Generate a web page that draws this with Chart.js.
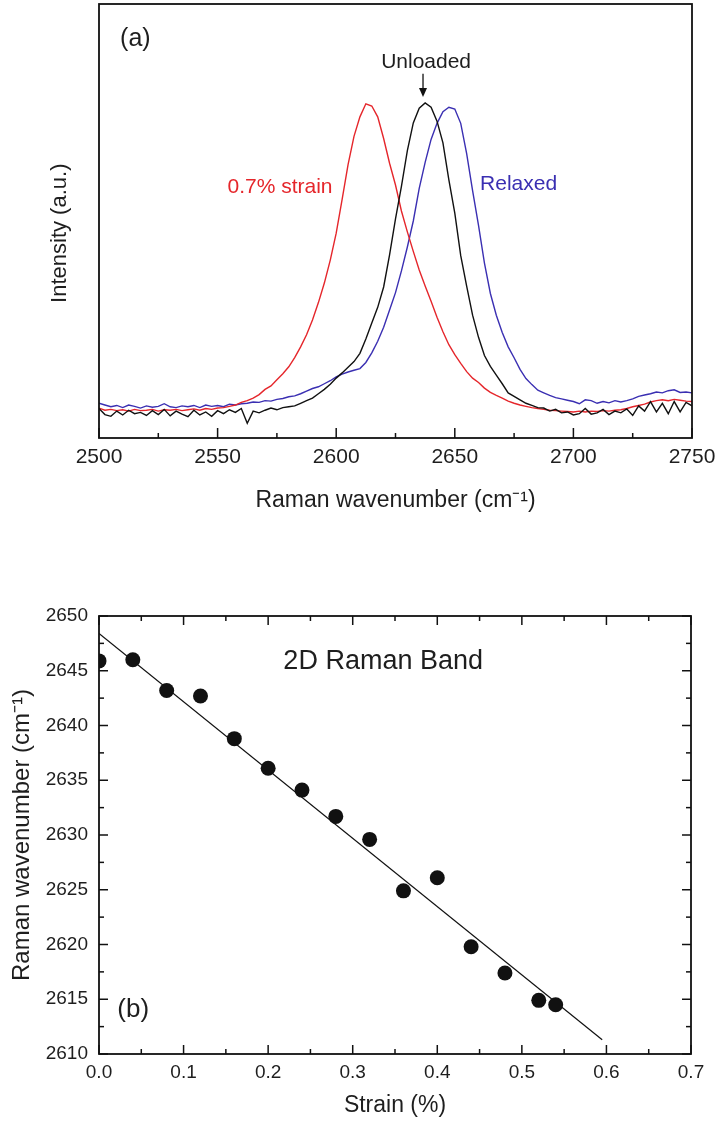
<!DOCTYPE html>
<html>
<head>
<meta charset="utf-8">
<script src="https://cdn.jsdelivr.net/npm/chart.js@4/dist/chart.umd.min.js"></script>
<style>
html,body{margin:0;padding:0;background:#fff;width:718px;height:1122px;overflow:hidden}
#wrapA{position:absolute;left:0;top:0;width:718px;height:560px}
#wrapB{position:absolute;left:0;top:560px;width:718px;height:562px}
canvas{display:block}
</style>
</head>
<body>
<div id="wrapA"><canvas id="chartA" width="718" height="560"></canvas></div>
<div id="wrapB"><canvas id="chartB" width="718" height="562"></canvas></div>
<script>
// ---------- Panel (a): Raman spectra ----------
const wavenumber = [
  2500, 2502.5, 2505, 2507.5, 2510, 2512.5, 2515, 2517.5, 2520, 2522.5,
  2525, 2527.5, 2530, 2532.5, 2535, 2537.5, 2540, 2542.5, 2545, 2547.5,
  2550, 2552.5, 2555, 2557.5, 2560, 2562.5, 2565, 2567.5, 2570, 2572.5,
  2575, 2577.5, 2580, 2582.5, 2585, 2587.5, 2590, 2592.5, 2595, 2597.5,
  2600, 2602.5, 2605, 2607.5, 2610, 2612.5, 2615, 2617.5, 2620, 2622.5,
  2625, 2627.5, 2630, 2632.5, 2635, 2637.5, 2640, 2642.5, 2645, 2647.5,
  2650, 2652.5, 2655, 2657.5, 2660, 2662.5, 2665, 2667.5, 2670, 2672.5,
  2675, 2677.5, 2680, 2682.5, 2685, 2687.5, 2690, 2692.5, 2695, 2697.5,
  2700, 2702.5, 2705, 2707.5, 2710, 2712.5, 2715, 2717.5, 2720, 2722.5,
  2725, 2727.5, 2730, 2732.5, 2735, 2737.5, 2740, 2742.5, 2745, 2747.5,
  2750
];
const intensityStrained = [
  6.9, 6.4, 6.6, 6.3, 6.5, 6.2, 6.6, 6.3, 6.4, 6.6,
  6.2, 6.5, 6.4, 6.6, 6.3, 6.5, 6.7, 6.4, 6.8, 6.6,
  6.9, 7.0, 7.3, 7.6, 8.2, 8.6, 9.2, 10.0, 11.2, 12.0,
  13.4, 14.8, 16.4, 18.5, 21.0, 23.8, 27.2, 31.2, 35.7, 41.0,
  47.2, 55.0, 63.0, 69.5, 74.0, 77.0, 76.5, 74.0, 69.0, 63.3,
  58.3, 52.3, 47.5, 43.0, 38.7, 35.0, 31.5, 27.8, 24.5, 21.5,
  19.2, 17.2, 15.3, 13.8, 12.8, 11.5, 10.5, 9.8, 9.2, 8.5,
  8.0, 7.6, 7.3, 7.0, 6.8, 6.6, 6.4, 6.3, 6.2, 6.1,
  6.0, 6.2, 6.0, 6.2, 6.1, 6.3, 6.2, 6.4, 6.5, 6.8,
  7.2, 7.5, 7.8, 8.3, 8.6, 8.8, 8.6, 8.9, 8.7, 8.5,
  8.4
];
const intensityUnloaded = [
  6.8, 5.4, 5.0, 6.2, 5.3, 6.4, 5.6, 5.9, 5.2, 6.3,
  5.4, 6.6, 5.1, 6.2, 5.5, 4.9, 6.4, 5.3, 6.0, 5.0,
  6.3, 5.6, 6.5, 5.9, 6.8, 3.4, 6.2, 5.8, 6.4, 6.9,
  6.5, 7.0, 7.2, 7.4, 8.0, 8.6, 9.2, 10.2, 11.2, 12.4,
  13.8, 15.0, 16.3, 17.6, 19.5, 22.8, 26.5, 30.1, 34.8, 42.2,
  50.5, 58.0, 66.2, 72.6, 76.0, 77.2, 76.2, 73.0, 68.0, 59.5,
  51.8, 42.0, 35.0, 28.3, 23.2, 19.0, 16.5, 14.5, 12.5, 10.4,
  9.6, 8.8, 8.0, 7.5, 7.0, 6.9, 6.2, 6.6, 5.8, 6.0,
  5.3, 5.6, 6.8, 5.5, 5.8, 6.6, 5.4, 6.2, 5.8, 6.7,
  5.2, 7.4, 6.2, 8.4, 6.0, 8.0, 5.6, 8.4, 6.0, 8.2,
  7.4
];
const intensityRelaxed = [
  8.0, 7.6, 7.2, 7.5, 7.0, 7.6, 7.3, 6.9, 7.4, 7.1,
  7.3, 7.9, 7.2, 7.0, 7.4, 7.2, 7.5, 7.0, 7.6, 7.3,
  7.5, 7.2, 7.8, 7.6, 7.9, 8.0, 8.3, 8.2, 8.6, 8.5,
  8.9, 9.1, 9.5, 9.7, 10.2, 10.8, 11.4, 11.8, 12.5, 13.2,
  14.1, 14.7, 15.2, 15.6, 16.0, 17.4, 19.6, 22.3, 25.5, 29.5,
  33.5, 38.5, 44.0, 50.0, 57.5, 63.5, 68.8, 72.5, 75.2, 76.2,
  75.8, 72.5, 65.5, 57.0, 49.0, 40.3, 33.3, 28.3, 24.3, 21.0,
  18.5, 15.8, 13.7, 12.3, 11.0, 10.4, 9.8, 9.3, 9.0, 8.7,
  8.4, 7.9, 8.8, 8.6, 8.0, 8.4, 8.1, 8.6, 8.3, 8.6,
  9.0, 9.6, 9.9, 10.2, 10.6, 10.4, 10.9, 11.1, 10.5, 10.6,
  10.4
];

// ---------- Panel (b): 2D band position vs strain ----------
const strain = [0, 0.04, 0.08, 0.12, 0.16, 0.20, 0.24, 0.28, 0.32, 0.36, 0.40, 0.44, 0.48, 0.52, 0.54];
const bandPosition = [2645.9, 2646.0, 2643.2, 2642.7, 2638.8, 2636.1, 2634.1, 2631.7, 2629.6, 2624.9, 2626.1, 2619.8, 2617.4, 2614.9, 2614.5];
const fitStrain = [0, 0.595];
const fitPosition = [2648.4, 2611.3];

const FONT = '"Liberation Sans", Arial, Helvetica, sans-serif';
const RED = '#e5262b';
const BLUE = '#3a2fb2';
const BLACK = '#111111';
const TEXT = '#1e1e1e';

Chart.defaults.font.family = FONT;
Chart.defaults.color = TEXT;

function toXY(xs, ys) { return xs.map((x, i) => ({x: x, y: ys[i]})); }

const framePlugin = {
  id: 'frame',
  afterDatasetsDraw(chart, args, opts) {
    const {ctx, chartArea: a} = chart;
    const xs = chart.scales.x, ys = chart.scales.y;
    const majors = s => s.ticks.map(t => t.value);
    const minors = s => {
      const v = majors(s), out = [];
      for (let i = 0; i < v.length - 1; i++) out.push((v[i] + v[i + 1]) / 2);
      return out;
    };
    ctx.save();
    ctx.strokeStyle = opts.color;
    ctx.lineWidth = opts.tickWidth;
    const drawTicks = (side, vals, len) => {
      vals.forEach(v => {
        ctx.beginPath();
        if (side === 'bottom' || side === 'top') {
          const p = xs.getPixelForValue(v);
          const y0 = side === 'bottom' ? a.bottom : a.top;
          const dir = side === 'bottom' ? -1 : 1;
          ctx.moveTo(p, y0); ctx.lineTo(p, y0 + dir * len);
        } else {
          const p = ys.getPixelForValue(v);
          const x0 = side === 'left' ? a.left : a.right;
          const dir = side === 'left' ? 1 : -1;
          ctx.moveTo(x0, p); ctx.lineTo(x0 + dir * len, p);
        }
        ctx.stroke();
      });
    };
    (opts.sides || []).forEach(side => {
      const s = (side === 'bottom' || side === 'top') ? xs : ys;
      drawTicks(side, majors(s), opts.major);
      drawTicks(side, minors(s), opts.minor);
    });
    ctx.lineWidth = opts.borderWidth;
    ctx.strokeRect(a.left, a.top, a.right - a.left, a.bottom - a.top);
    ctx.restore();
  }
};

const notesPlugin = {
  id: 'notes',
  afterDatasetsDraw(chart, args, opts) {
    const {ctx} = chart;
    const xs = chart.scales.x, ys = chart.scales.y;
    ctx.save();
    (opts.texts || []).forEach(t => {
      ctx.font = t.size + 'px ' + FONT;
      ctx.fillStyle = t.color;
      ctx.textAlign = t.align || 'left';
      ctx.textBaseline = 'middle';
      ctx.fillText(t.text, xs.getPixelForValue(t.x), ys.getPixelForValue(t.y));
    });
    (opts.arrows || []).forEach(ar => {
      const x = xs.getPixelForValue(ar.x);
      const y0 = ys.getPixelForValue(ar.y0);
      const y1 = ys.getPixelForValue(ar.y1);
      ctx.strokeStyle = ar.color; ctx.fillStyle = ar.color; ctx.lineWidth = 1.3;
      ctx.beginPath(); ctx.moveTo(x, y0); ctx.lineTo(x, y1 - 6); ctx.stroke();
      ctx.beginPath(); ctx.moveTo(x - 4, y1 - 9); ctx.lineTo(x + 4, y1 - 9); ctx.lineTo(x, y1); ctx.closePath(); ctx.fill();
    });
    ctx.restore();
  }
};

const plainNumber = v => String(Math.round(Number(v)));

// ---------- Chart (a) ----------
new Chart(document.getElementById('chartA'), {
  type: 'scatter',
  data: {
    datasets: [
      {label: 'Unloaded', data: toXY(wavenumber, intensityUnloaded), borderColor: BLACK, showLine: true},
      {label: '0.7% strain', data: toXY(wavenumber, intensityStrained), borderColor: RED, showLine: true},
      {label: 'Relaxed', data: toXY(wavenumber, intensityRelaxed), borderColor: BLUE, showLine: true}
    ]
  },
  options: {
    responsive: false,
    animation: false,
    events: [],
    layout: {padding: {left: 0, top: 4, right: 26, bottom: 32}},
    elements: {point: {radius: 0}, line: {borderWidth: 1.4, tension: 0}},
    plugins: {
      legend: {display: false},
      tooltip: {enabled: false},
      frame: {color: BLACK, tickWidth: 1.5, borderWidth: 1.8, major: 10, minor: 5, sides: ['bottom']},
      notes: {
        texts: [
          {text: '(a)', x: 2508.9, y: 91.9, size: 25, color: TEXT, align: 'left'},
          {text: '0.7% strain', x: 2576.3, y: 57.8, size: 21, color: RED, align: 'center'},
          {text: 'Unloaded', x: 2637.9, y: 86.6, size: 21, color: TEXT, align: 'center'},
          {text: 'Relaxed', x: 2676.9, y: 58.5, size: 21, color: BLUE, align: 'center'}
        ],
        arrows: [{x: 2636.6, y0: 83.9, y1: 78.6, color: BLACK}]
      }
    },
    scales: {
      x: {
        type: 'linear', min: 2500, max: 2750,
        grid: {display: false, drawTicks: false},
        border: {display: false},
        ticks: {stepSize: 50, padding: 7, font: {size: 21}, color: TEXT, maxRotation: 0, autoSkip: false,
                callback: plainNumber},
        title: {display: true, text: 'Raman wavenumber (cm\u207B\u00B9)', font: {size: 23}, color: TEXT, padding: {top: 0, bottom: 14}},
        afterFit: s => { s.height = 90; s.paddingLeft = 0; s.paddingRight = 0; }
      },
      y: {
        type: 'linear', min: 0, max: 100,
        grid: {display: false, drawTicks: false},
        border: {display: false},
        ticks: {display: false},
        title: {display: true, text: 'Intensity (a.u.)\u00A0\u00A0\u00A0\u00A0', font: {size: 22}, color: TEXT, padding: {top: 47, bottom: 0}},
        afterFit: s => { s.width = 99; s.paddingTop = 0; s.paddingBottom = 0; }
      }
    }
  },
  plugins: [framePlugin, notesPlugin]
});

// ---------- Chart (b) ----------
new Chart(document.getElementById('chartB'), {
  type: 'scatter',
  data: {
    datasets: [
      {label: '2D band', data: toXY(strain, bandPosition), backgroundColor: BLACK, borderWidth: 0, pointRadius: 7.5, showLine: false, clip: 0},
      {label: 'Linear fit', data: toXY(fitStrain, fitPosition), borderColor: BLACK, borderWidth: 1.2, pointRadius: 0, showLine: true}
    ]
  },
  options: {
    responsive: false,
    animation: false,
    events: [],
    layout: {padding: {left: 0, top: 56, right: 27, bottom: 0}},
    plugins: {
      legend: {display: false},
      tooltip: {enabled: false},
      frame: {color: BLACK, tickWidth: 1.5, borderWidth: 1.8, major: 9, minor: 5, sides: ['bottom', 'top', 'left', 'right']},
      notes: {
        texts: [
          {text: '2D Raman Band', x: 0.218, y: 2645.8, size: 27, color: TEXT, align: 'left'},
          {text: '(b)', x: 0.0216, y: 2614.0, size: 26, color: TEXT, align: 'left'}
        ]
      }
    },
    scales: {
      x: {
        type: 'linear', min: 0, max: 0.7,
        grid: {display: false, drawTicks: false},
        border: {display: false},
        ticks: {stepSize: 0.1, padding: 7, font: {size: 19}, color: TEXT, maxRotation: 0, autoSkip: false,
                callback: v => Number(v).toFixed(1)},
        title: {display: true, text: 'Strain (%)', font: {size: 23}, color: TEXT, padding: {top: 0, bottom: 3}},
        afterFit: s => { s.height = 68; s.paddingLeft = 0; s.paddingRight = 0; }
      },
      y: {
        type: 'linear', min: 2610, max: 2650,
        grid: {display: false, drawTicks: false},
        border: {display: false},
        ticks: {stepSize: 5, padding: 11, font: {size: 19}, color: TEXT, autoSkip: false,
                callback: plainNumber},
        title: {display: true, text: 'Raman wavenumber (cm\u207B\u00B9)', font: {size: 24}, color: TEXT, padding: {top: 7.6, bottom: 0}},
        afterFit: s => { s.width = 99; s.paddingTop = 0; s.paddingBottom = 0; }
      }
    }
  },
  plugins: [framePlugin, notesPlugin]
});
</script>
</body>
</html>
